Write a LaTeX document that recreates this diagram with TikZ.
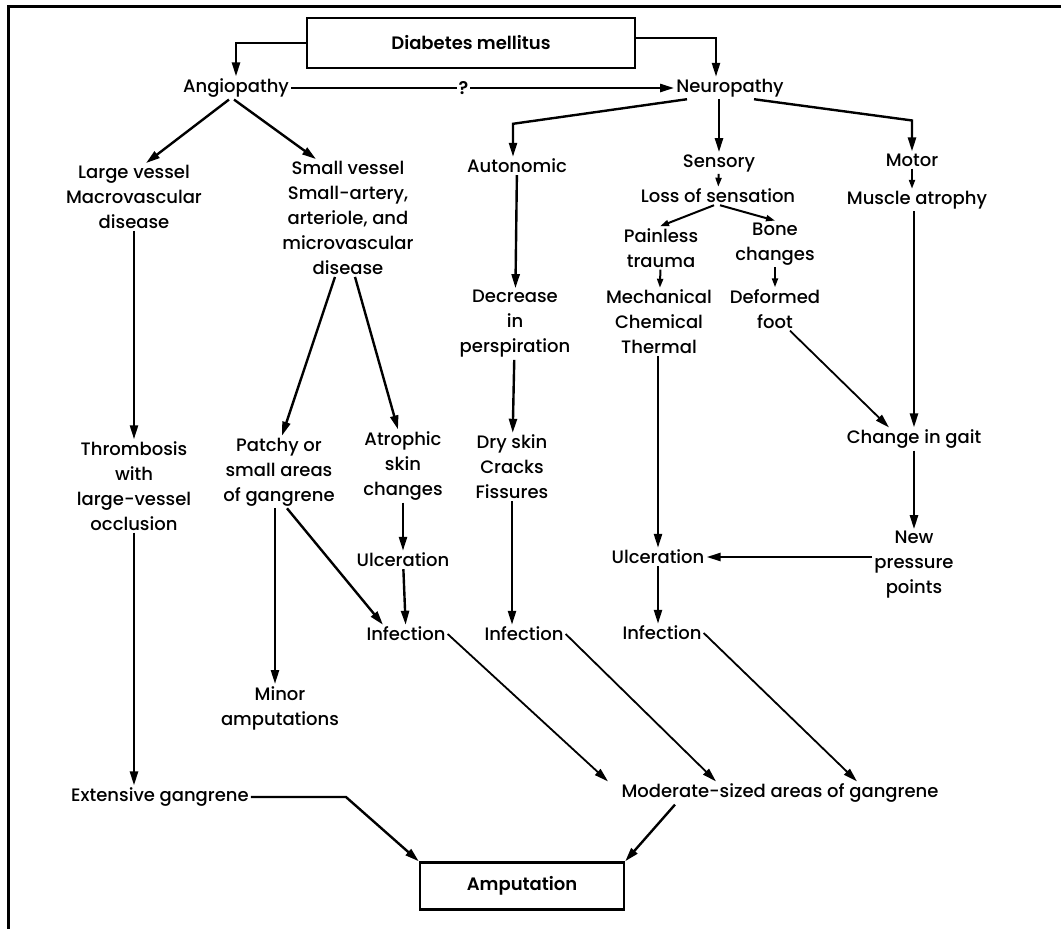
\documentclass[tikz,border=0pt]{standalone}
\usepackage{fontspec}
\setmainfont{Poppins Medium}[BoldFont={Poppins SemiBold}]
\usepackage{tikz}
\usetikzlibrary{arrows.meta}
\usetikzlibrary{positioning}
\tikzset{
   txt/.style = {%
    align=center,
    inner sep=2pt,
    font=\fontsize{18}{25}\selectfont},
   box/.style = {%
    shape=rectangle,
    draw,
    line width=2.4pt,
    align=center,
    font=\fontsize{18}{25}\selectfont\bfseries},
 arrow/.style = {%
    draw,
    line width=2.4pt,% <-- same width for all lines
    -{Triangle[length=14pt,width=8pt]}},
 small arrow/.style = {%
    draw,
    line width=2pt,
    -{Triangle[length=9pt,width=6pt]}},
 thin arrow/.style = {%
    arrow,
    line width=1.8pt},
    }

\begin{document}
\begin{tikzpicture}[x=1pt,y=-1pt]
    \useasboundingbox (0,0) rectangle (1061,929);
    \draw[line width=3pt] (8,929) -- (8,6) -- (1061,6);

    % top
    \node[box, minimum width=328pt, minimum height=50pt] (diab) at (471,43) {Diabetes mellitus};
    \node[txt] (angio) at (236,88) {Angiopathy};
    \node[txt] (neuro) at (730,88) {Neuropathy};

    % angiopathy branch
    \node[txt] (large) at (134,197) {Large vessel\\Macrovascular\\disease};
    \node[txt] (small) at (348,218) {Small vessel\\Small-artery,\\arteriole, and\\microvascular\\disease};
    \node[txt] (throm) at (134,486) {Thrombosis\\with\\large-vessel\\occlusion};
    \node[txt] (patchy) at (279,472) {Patchy or\\small areas\\of gangrene};
    \node[txt] (atrsk) at (403,466) {Atrophic\\skin\\changes};
    \node[txt] (ulcL) at (403,560) {Ulceration};
    \node[txt] (infL) at (406,634) {Infection};
    \node[txt] (minor) at (280,708) {Minor\\amputations};
    \node[txt] (ext) at (160,797) {Extensive gangrene};

    % neuropathy branch
    \node[txt] (auto) at (517,166) {Autonomic};
    \node[txt] (decr) at (515,324) {Decrease\\in\\perspiration};
    \node[txt] (dry) at (512,467) {Dry skin\\Cracks\\Fissures};
    \node[txt] (infM) at (524,634) {Infection};
    \node[txt] (sens) at (719,163) {Sensory};
    \node[txt] (loss) at (718,196) {Loss of sensation};
    \node[txt] (painless) at (661,248) {Painless\\trauma};
    \node[txt] (bone) at (775,244) {Bone\\changes};
    \node[txt] (mech) at (659,322) {Mechanical\\Chemical\\Thermal};
    \node[txt] (deform) at (775,309) {Deformed\\foot};
    \node[txt] (ulcR) at (658,557) {Ulceration};
    \node[txt] (infR) at (662,633) {Infection};
    \node[txt] (motor) at (912,160) {Motor};
    \node[txt] (muscle) at (917,200) {Muscle atrophy};
    \node[txt] (gait) at (914,439) {Change in gait};
    \node[txt] (press) at (914,565) {New\\pressure\\points};

    % bottom
    \node[txt] (mod) at (780,793) {Moderate-sized areas of gangrene};
    \node[box, minimum width=204pt, minimum height=47pt] (amp) at (522,886) {Amputation};

    % connectors from the top
    \draw[arrow] (diab.west) -| (angio);
    \draw[arrow] ([yshift=5pt]diab.east) -| ([xshift=-14pt]neuro.north);
    \draw[arrow] (angio) -- node[pos=0.45, fill=white, inner sep=3pt, txt, font=\fontsize{18}{25}\selectfont\bfseries] {?} (neuro);

    \draw[arrow] ([xshift=-7pt]angio.south) -- ([xshift=12pt]large.north);
    \draw[arrow] ([xshift=-2pt]angio.south) -- ([xshift=-32pt]small.north);
    \draw[arrow] (large) -- (throm);
    \draw[arrow] (throm.south) -- (throm.south |- ext.north);
    \draw[arrow] ([xshift=-13pt]small.south) -- ([xshift=3pt]patchy.north);
    \draw[arrow] ([xshift=7pt]small.south) -- ([xshift=-5pt]atrsk.north);
    \draw[arrow] (atrsk) -- (ulcL);
    \draw[arrow] (ulcL) -- (infL);
    \draw[arrow] ([xshift=8pt]patchy.south) -- ([xshift=-23pt]infL.north);
    \draw[arrow] ([xshift=-4pt]patchy.south) -- ([xshift=-5pt]minor.north);

    \draw[arrow] ([xshift=-43pt]neuro.south) -- ([xshift=-4pt, yshift=33pt]auto.north) -- ([xshift=-4pt]auto.north);
    \draw[arrow] (neuro.south -| sens.north) -- (sens.north);
    \draw[arrow] ([xshift=24pt]neuro.south) -- ([yshift=31pt]motor.north) -- (motor.north);
    \draw[arrow] (auto) -- (decr);
    \draw[arrow] (decr) -- (dry);
    \draw[arrow] (dry.south) -- (dry.south |- infM.north);

    \draw[small arrow] (sens) -- (loss);
    \draw[small arrow] ([xshift=-4pt]loss.south) -- ([xshift=-1pt]painless.north);
    \draw[small arrow] ([xshift=2pt]loss.south) -- (bone.north);
    \draw[small arrow] (painless) -- (mech);
    \draw[small arrow] (bone) -- (deform);
    \draw[small arrow] (motor) -- (motor |- muscle.north);
    \draw[arrow] (mech.south -| ulcR) -- (ulcR);
    \draw[arrow] (ulcR.south) -- (ulcR.south |- infR.north);
    \draw[arrow] (muscle.south -| gait) -- (gait);
    \draw[thin arrow] ([xshift=15pt]deform.south) -- ([xshift=-25pt]gait.north);
    \draw[arrow] (gait) -- (press);
    \draw[arrow] (press.west |- ulcR) -- (ulcR.east);

    % to the bottom
    \draw[thin arrow] (infL.east) -- ([xshift=-172pt]mod.north);
    \draw[thin arrow] (infM.east) -- ([xshift=-64pt]mod.north);
    \draw[thin arrow] (infR.east) -- ([xshift=77pt]mod.north);
    \draw[arrow] (ext.east) -- ++(95,0) -- (amp.north west);
    \draw[arrow] ([xshift=-105pt]mod.south) -- (amp.north east);
\end{tikzpicture}
\end{document}
